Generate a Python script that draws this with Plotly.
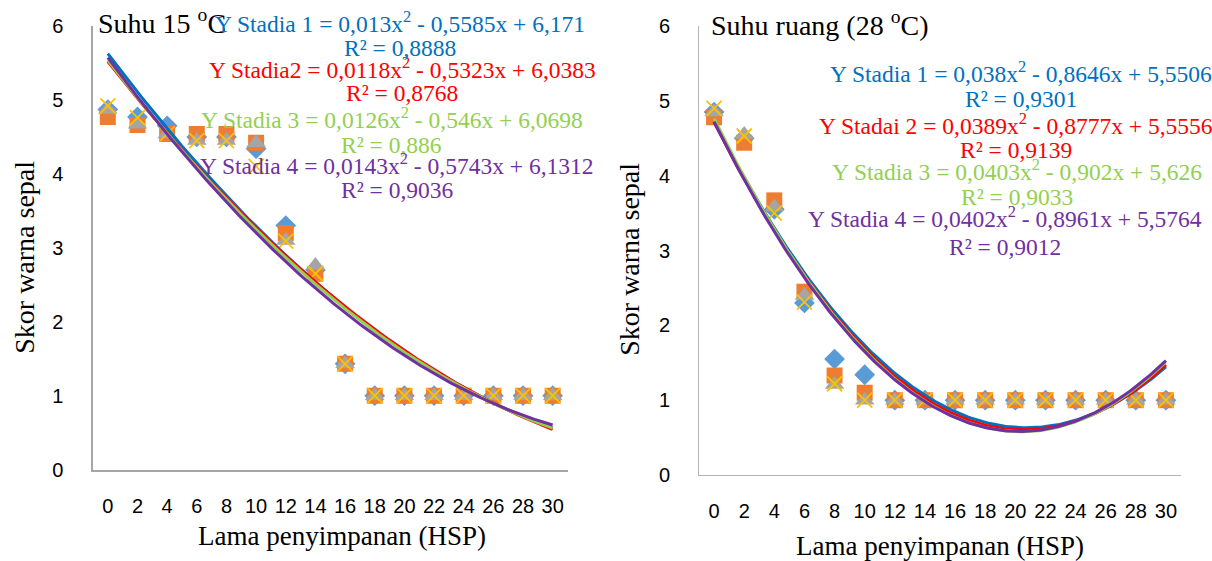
import numpy as np
import plotly.graph_objects as go

W, H = 1212, 561

hsp = [0, 2, 4, 6, 8, 10, 12, 14, 16, 18, 20, 22, 24, 26, 28, 30]
hsp_labels = [str(v) for v in hsp]
cat_idx = list(range(1, 17))

# Suhu 15 C
l_s1 = [4.87, 4.77, 4.65, 4.50, 4.50, 4.34, 3.30, 2.70, 1.43, 1, 1, 1, 1, 1, 1, 1]
l_s2 = [4.77, 4.66, 4.54, 4.54, 4.54, 4.42, 3.20, 2.65, 1.43, 1, 1, 1, 1, 1, 1, 1]
l_s3 = [4.87, 4.67, 4.54, 4.45, 4.45, 4.42, 3.10, 2.76, 1.43, 1, 1, 1, 1, 1, 1, 1]
l_s4 = [4.92, 4.76, 4.54, 4.45, 4.45, 4.10, 3.09, 2.65, 1.43, 1, 1, 1, 1, 1, 1, 1]

# Suhu ruang 28 C
r_s1 = [4.85, 4.50, 3.55, 2.30, 1.55, 1.34, 1, 1, 1, 1, 1, 1, 1, 1, 1, 1]
r_s2 = [4.78, 4.44, 3.67, 2.45, 1.33, 1.10, 1, 1, 1, 1, 1, 1, 1, 1, 1, 1]
r_s3 = [4.85, 4.55, 3.58, 2.40, 1.21, 1.00, 1, 1, 1, 1, 1, 1, 1, 1, 1, 1]
r_s4 = [4.90, 4.53, 3.50, 2.31, 1.22, 1.00, 1, 1, 1, 1, 1, 1, 1, 1, 1, 1]

# trendline coefficients (a, b, c) for y = a x^2 + b x + c, x = category index
l_coef = [(0.013, -0.5585, 6.171), (0.0118, -0.5323, 6.0383),
          (0.0126, -0.546, 6.0698), (0.0143, -0.5743, 6.1312)]
r_coef = [(0.038, -0.8646, 5.5506), (0.0389, -0.8777, 5.5556),
          (0.0403, -0.902, 5.626), (0.0402, -0.8961, 5.5764)]

l_eq = ["Y Stadia 1 = 0,013x<sup>2</sup> - 0,5585x + 6,171",
        "Y Stadia2 = 0,0118x<sup>2</sup> - 0,5323x + 6,0383",
        "Y Stadia 3 = 0,0126x<sup>2</sup> - 0,546x + 6,0698",
        "Y Stadia 4 = 0,0143x<sup>2</sup> - 0,5743x + 6,1312"]
l_r2 = ["R² = 0,8888", "R² = 0,8768", "R² = 0,886", "R² = 0,9036"]
r_eq = ["Y Stadia 1 = 0,038x<sup>2</sup> - 0,8646x + 5,5506",
        "Y Stadai 2 = 0,0389x<sup>2</sup> - 0,8777x + 5,5556",
        "Y Stadia 3 = 0,0403x<sup>2</sup> - 0,902x + 5,626",
        "Y Stadia 4 = 0,0402x<sup>2</sup> - 0,8961x + 5,5764"]
r_r2 = ["R² = 0,9301", "R² = 0,9139", "R² = 0,9033", "R² = 0,9012"]

marker_styles = [
    dict(symbol="diamond", color="#5B9BD5", size=16),
    dict(symbol="square", color="#ED7D31", size=16),
    dict(symbol="triangle-up", color="#A5A5A5", size=17),
    dict(symbol="x-thin", color="#FFC000", size=15, line=dict(color="#FFC000", width=1.8)),
]
line_colors = ["#0070C0", "#FF0000", "#92D050", "#7030A0"]

SERIF = "Liberation Serif, Times New Roman, serif"
SANS = "Liberation Sans, Arial, sans-serif"

# layout helpers: pixel positions -> paper fractions
Y_OFF, Y_SCALE = 11.0, 0.9617

def px(x):
    return x / W

def py(y):
    yy = (y - Y_OFF) / Y_SCALE
    return 1 - yy / H

fig = go.Figure()

panels = [
    dict(xa="x", ya="y", data=[l_s1, l_s2, l_s3, l_s4], coef=l_coef),
    dict(xa="x2", ya="y2", data=[r_s1, r_s2, r_s3, r_s4], coef=r_coef),
]

xs = np.linspace(1, 16, 200)
for p in panels:
    for d, ms in zip(p["data"], marker_styles):
        fig.add_trace(go.Scatter(x=cat_idx, y=d, mode="markers", marker=ms,
                                 xaxis=p["xa"], yaxis=p["ya"], showlegend=False,
                                 hoverinfo="skip"))
    for (a, b, c), col in zip(p["coef"], line_colors):
        fig.add_trace(go.Scatter(x=xs, y=a * xs ** 2 + b * xs + c, mode="lines",
                                 line=dict(color=col, width=3),
                                 xaxis=p["xa"], yaxis=p["ya"], showlegend=False,
                                 hoverinfo="skip"))

xcommon = dict(range=[0.5, 16.5], tickmode="array", tickvals=cat_idx, ticktext=hsp_labels,
               showgrid=False, zeroline=False, showline=True, ticks="",
               tickfont=dict(family=SANS, size=20, color="#000"), ticklabelstandoff=18)
ycommon = dict(range=[0, 6], tickmode="array", tickvals=[0, 1, 2, 3, 4, 5, 6],
               showgrid=False, zeroline=False, showline=True, ticks="",
               tickfont=dict(family=SANS, size=20, color="#000"), ticklabelstandoff=24)

fig.update_layout(
    width=W, height=H, margin=dict(l=0, r=0, t=0, b=0),
    paper_bgcolor="white", plot_bgcolor="white",
    xaxis=dict(domain=[px(93), px(567.5)], anchor="y", linecolor="#A6A6A6", linewidth=1.5, **xcommon),
    yaxis=dict(domain=[py(470), py(26)], anchor="x", linecolor="#A6A6A6", linewidth=1.5, **ycommon),
    xaxis2=dict(domain=[px(699), px(1181)], anchor="y2", linecolor="#B4B4B4", linewidth=1, **xcommon),
    yaxis2=dict(domain=[py(475.5), py(26)], anchor="x2", linecolor="#B4B4B4", linewidth=1, **ycommon),
)

ann = []
def text(x, y, s, size=22, color="#000", xanchor="center", textangle=0):
    ann.append(dict(x=px(x), y=py(y), xref="paper", yref="paper", text=s, showarrow=False,
                    xanchor=xanchor, yanchor="middle", textangle=textangle,
                    font=dict(family=SERIF, size=size, color=color)))

# panel titles
text(96, 22, "Suhu 15 <sup>o</sup>C", size=28, xanchor="left")
text(709, 24, "Suhu ruang (28 <sup>o</sup>C)", size=28, xanchor="left")

# axis titles
text(342, 537, "Lama penyimpanan (HSP)", size=27)
text(940, 547, "Lama penyimpanan (HSP)", size=27)
text(25, 258, "Skor warna sepal", size=28, textangle=-90)
text(630, 260, "Skor warna sepal", size=28, textangle=-90)

# trendline labels
l_pos = [(400, 22, 48), (402, 68, 93), (392, 118, 145), (397, 164, 190)]
r_pos = [(1021, 72, 99), (1016, 124, 150), (1017, 170, 197), (1005, 217, 247)]
for (cx, ye, yr), e, r, col in zip(l_pos, l_eq, l_r2, line_colors):
    text(cx, ye, e, size=23.5, color=col)
    text(cx, yr, r, size=23.5, color=col)
for (cx, ye, yr), e, r, col in zip(r_pos, r_eq, r_r2, line_colors):
    text(cx, ye, e, size=23.5, color=col)
    text(cx, yr, r, size=23.5, color=col)

fig.update_layout(annotations=ann)
fig.write_html("out.html", config={"displayModeBar": False},
               post_script="document.body.style.margin='0';document.body.style.overflow='hidden';")
